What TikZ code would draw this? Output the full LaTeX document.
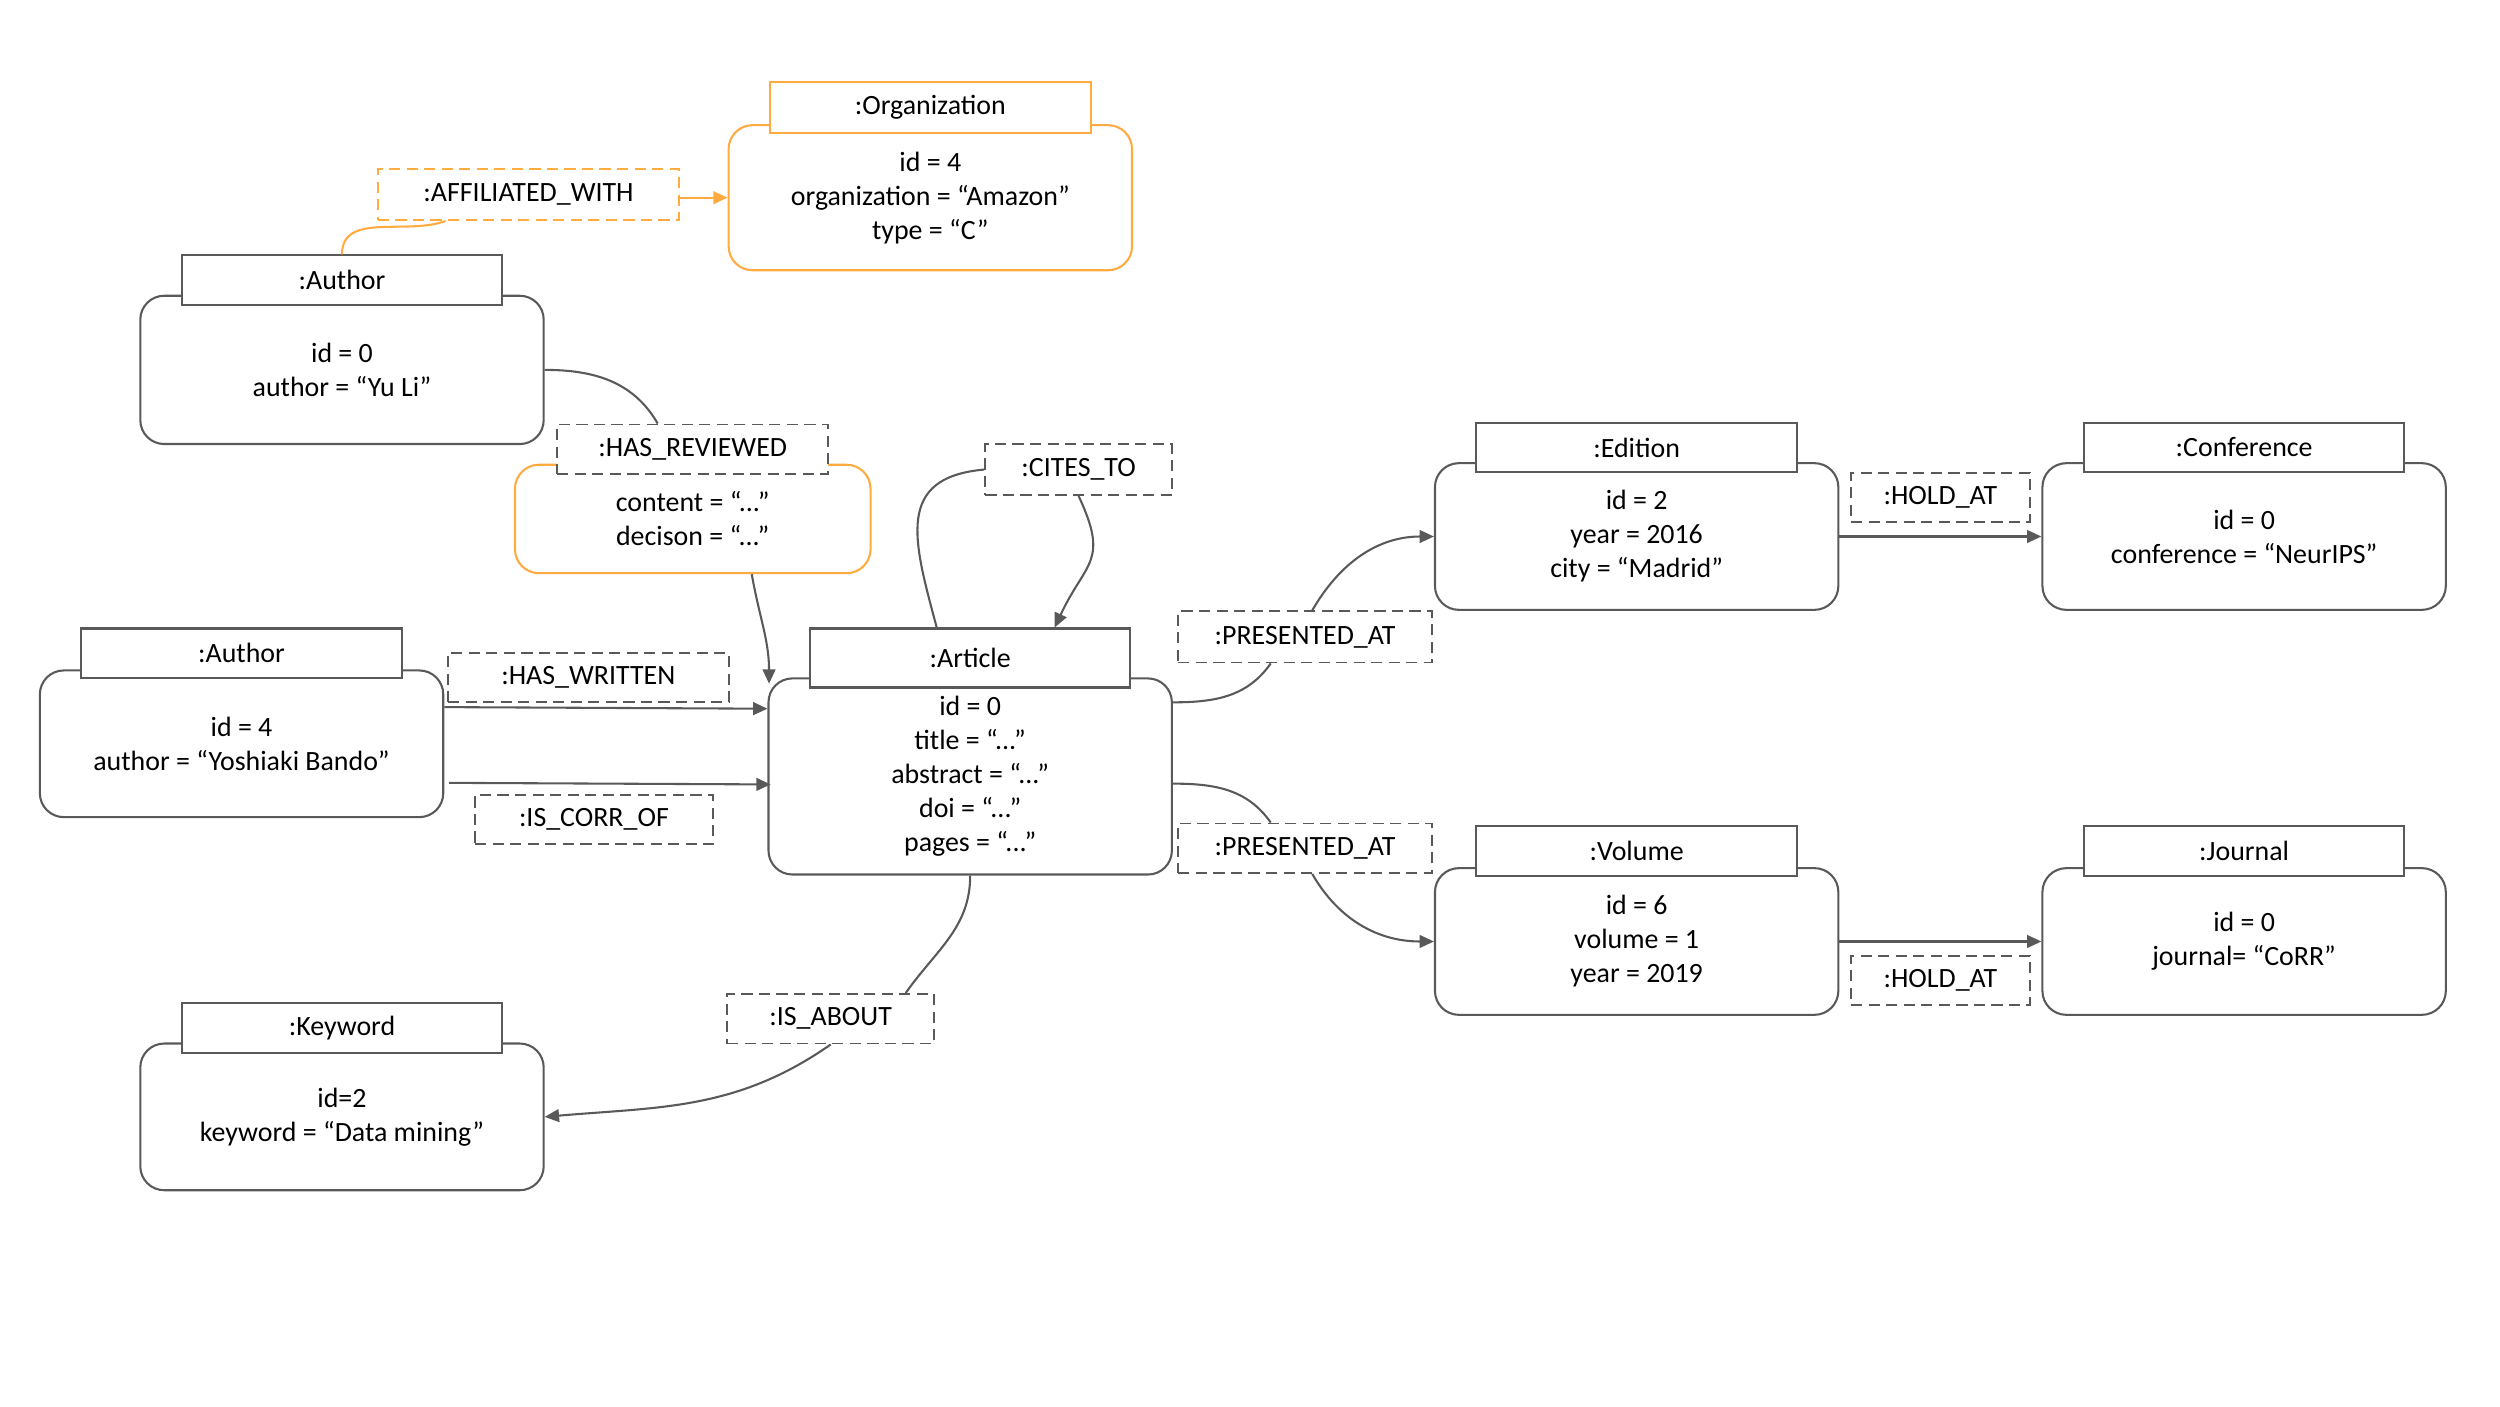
\documentclass[tikz,border=0pt]{standalone}
\usepackage{fontspec}
\setmainfont{Carlito}
\usetikzlibrary{positioning,arrows.meta}
\definecolor{edgegray}{RGB}{89,89,89}
\definecolor{amber}{RGB}{255,171,64}
\newcommand{\nodefont}{\fontsize{17.5}{21.3}\selectfont}

\begin{document}
\begin{tikzpicture}[x=1pt,y=1pt,
	box/.style={draw=edgegray,line width=1.3pt,rounded corners=15pt,minimum width=253pt,minimum height=92pt,align=center,inner sep=0pt,font=\nodefont},
	head/.style={draw=edgegray,line width=1.3pt,fill=white,minimum width=201pt,minimum height=31pt,inner sep=0pt,font=\nodefont},
	rel/.style={draw=edgegray,line width=1.2pt,dash pattern=on 7pt off 4pt,fill=white,minimum height=31pt,inner sep=0pt,font=\nodefont},
	link/.style={draw=edgegray,line width=1.3pt,-{Triangle[length=9pt,width=8pt]}},
	bare/.style={draw=edgegray,line width=1.3pt}]
	\useasboundingbox (0,0) rectangle (1568,-882);
	% entities
	\node[box,draw=amber,minimum height=91pt] (org) at (583.5,-124) {id = 4\\organization = “Amazon”\\type = “C”};
	\node[head,draw=amber,minimum height=32pt,above=-6pt of org.north] (orgT) {:Organization};
	\node[box,minimum height=93pt] (au1) at (214.5,-232) {id = 0\\author = “Yu Li”};
	\node[head,above=-7pt of au1.north] (au1T) {:Author};
	\node[box,draw=amber,minimum width=223pt,minimum height=68pt] (rev) at (434.5,-325.5) {content = “...”\\decison = “...”};
	\node[box,minimum height=123pt] (art) at (608.5,-487) {id = 0\\title = “...”\\abstract = “...”\\doi = “...”\\pages = “...”};
	\node[head,minimum height=37pt,above=-7pt of art.north] (artT) {:Article};
	\node[box] (au2) at (151.5,-466.5) {id = 4\\author = “Yoshiaki Bando”};
	\node[head,above=-6pt of au2.north] (au2T) {:Author};
	\node[box] (kw) at (214.5,-700.5) {id=2\\keyword = “Data mining”};
	\node[head,above=-7pt of kw.north] (kwT) {:Keyword};
	\node[box] (ed) at (1026.5,-336.5) {id = 2\\year = 2016\\city = “Madrid”};
	\node[head,above=-7pt of ed.north] (edT) {:Edition};
	\node[box] (conf) at (1407.5,-336.5) {id = 0\\conference = “NeurIPS”};
	\node[head,above=-7pt of conf.north] (confT) {:Conference};
	\node[box] (vol) at (1026.5,-590.5) {id = 6\\volume = 1\\year = 2019};
	\node[head,above=-6pt of vol.north] (volT) {:Volume};
	\node[box] (jour) at (1407.5,-590.5) {id = 0\\journal= “CoRR”};
	\node[head,above=-6pt of jour.north] (jourT) {:Journal};
	% relationships
	\node[rel,draw=amber,minimum width=189pt,minimum height=32pt] (affR) at (331.5,-122) {:AFFILIATED\_WITH};
	\node[rel,minimum width=170pt,above=-7pt of rev.north] (revR) {:HAS\_REVIEWED};
	\node[rel,minimum width=117pt,minimum height=32pt] (citeR) at (676.5,-294.5) {:CITES\_TO};
	\node[rel,minimum width=176pt] (wroteR) at (369,-425) {:HAS\_WRITTEN};
	\node[rel,minimum width=149pt] (corrR) at (372.5,-514) {:IS\_CORR\_OF};
	\node[rel,minimum width=130pt] (aboutR) at (521,-639) {:IS\_ABOUT};
	\node[rel,minimum width=159pt,minimum height=32pt] (presA) at (818.5,-399.5) {:PRESENTED\_AT};
	\node[rel,minimum width=159pt] (presB) at (818.5,-532) {:PRESENTED\_AT};
	\node[rel,minimum width=112pt] (holdA) at (1217,-312) {:HOLD\_AT};
	\node[rel,minimum width=112pt] (holdB) at (1217,-615) {:HOLD\_AT};
	% connectors
	\draw[bare,draw=amber] (au1T.north) to[out=90,in=200] ([xshift=-52pt]affR.south);
	\draw[link,draw=amber] (affR.east |- org.west) -- (org.west);
	\draw[bare] (au1.east) to[out=0,in=120] ([xshift=-22pt]revR.north);
	\draw[link] ([xshift=37pt]rev.south) to[out=-80,in=90] ([xshift=1pt,yshift=-4pt]art.north west);
	\draw[bare] ([xshift=-21pt]artT.north) to[out=105,in=185,looseness=1.4] (citeR.west);
	\draw[link] (citeR.south) to[out=-65,in=65,looseness=1.4] ([xshift=53pt]artT.north);
	\draw[link] ([yshift=23pt]au2.east) -- ([yshift=42.5pt]art.west);
	\draw[link] ([xshift=3pt,yshift=-24.5pt]au2.east) -- ([xshift=2pt,yshift=-5pt]art.west);
	\draw[bare] ([yshift=46.5pt]art.east) to[out=0,in=235] ([xshift=-21.5pt]presA.south);
	\draw[link] ([xshift=4.5pt]presA.north) to[out=60,in=180] (ed.west);
	\draw[bare] ([yshift=-4.5pt]art.east) to[out=0,in=125] ([xshift=-21.5pt]presB.north);
	\draw[link] ([xshift=4.5pt]presB.south) to[out=-60,in=180] (vol.west);
	\draw[link] (ed.east) -- (conf.west);
	\draw[link] (vol.east) -- (jour.west);
	\draw[bare] (art.south) to[out=-90,in=55] ([xshift=47pt]aboutR.north);
	\draw[link] (aboutR.south) to[out=-145,in=5] (kw.east);
\end{tikzpicture}
\end{document}
